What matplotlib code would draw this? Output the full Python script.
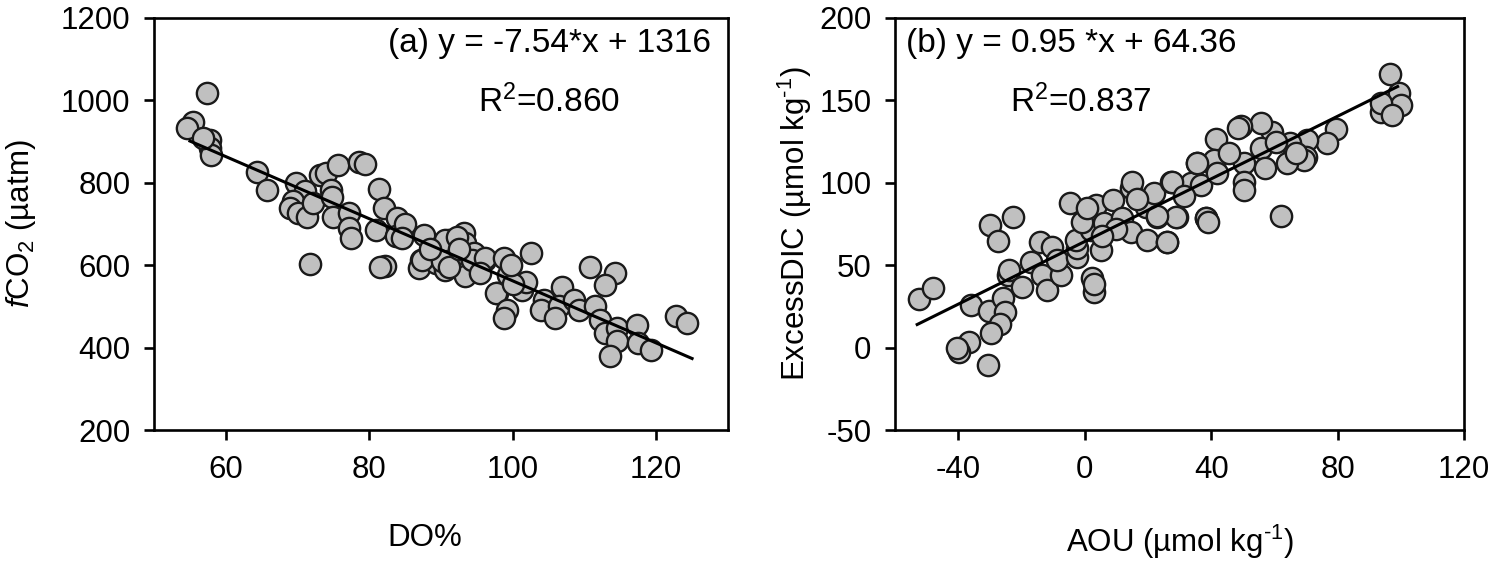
import numpy as np
import matplotlib.pyplot as plt

plt.rcParams['font.family'] = ['Liberation Sans', 'DejaVu Sans']
plt.rcParams['mathtext.fontset'] = 'custom'
plt.rcParams['mathtext.rm'] = 'Liberation Sans'
plt.rcParams['mathtext.it'] = 'Liberation Sans:italic'
plt.rcParams['axes.unicode_minus'] = False

# Panel (a): DO% vs fCO2
do_pct = [57.4, 55.4, 54.6, 57.8, 57.8, 57.9, 56.8, 64.3, 65.8, 69.8, 71.0, 69.3,
          68.9, 70.0, 71.3, 72.1, 71.8, 73.1, 73.9, 75.6, 78.5, 79.4, 74.7, 74.8,
          74.9, 77.2, 77.2, 77.5, 81.3, 82.1, 83.9, 81.0, 83.7, 82.2, 81.5, 87.6,
          87.2, 86.9, 89.3, 90.1, 91.1, 93.2, 93.4, 91.5, 90.6, 93.4, 94.6, 96.2,
          97.8, 87.4, 90.6, 92.2, 90.1, 91.1, 94.3, 96.2, 98.8, 99.4, 97.6, 99.2,
          98.8, 101.3, 101.8, 102.5, 104.3, 104.0, 106.8, 106.4, 105.9, 108.5, 109.2,
          110.8, 114.3, 112.9, 111.5, 112.2, 112.9, 114.5, 114.5, 113.6, 117.3,
          117.5, 119.3, 122.8, 124.3, 85.0, 88.5, 95.5, 100.0, 84.5, 92.5, 99.8]
fco2 = [1019, 948, 932, 904, 884, 867, 909, 826, 782, 799, 779, 755,
        739, 726, 718, 751, 603, 819, 824, 843, 851, 845, 782, 766,
        717, 727, 690, 666, 784, 739, 714, 686, 670, 598, 595, 673,
        613, 593, 605, 649, 661, 678, 654, 621, 588, 573, 630, 613,
        532, 613, 661, 669, 609, 596, 613, 617, 617, 576, 532, 491,
        472, 540, 560, 629, 516, 491, 548, 500, 472, 516, 491,
        596, 580, 552, 500, 467, 435, 447, 415, 380, 455,
        410, 394, 477, 460, 700, 640, 580, 555, 665, 640, 600]

fit_a_x = [55, 125]
fit_a_slope, fit_a_int = -7.54, 1316

# Panel (b): AOU vs ExcessDIC
aou = [-52.4, -47.9, -30.0, -22.7, -27.3, -36.1, -30.3, -26.0, -25.3, -26.8,
       -29.7, -36.6, -39.7, -30.5, -24.2, -24.0, -19.7, -17.1, -14.1, -10.2,
       -13.4, -11.8, -7.6, -8.7, -4.6, -2.3, -2.3, -2.8, 2.4, 3.0,
       3.0, 1.9, -0.7, 3.5, 0.8, 5.1, 6.1, 8.8, 11.9, 14.5,
       14.9, 19.3, 14.5, 19.8, 23.0, 21.9, 27.4, 26.1, 29.3, 33.5,
       35.6, 38.3, 40.9, 96.5, 99.4, 100.0, 93.6, 93.6, 97.3, 79.4,
       76.5, 70.4, 69.9, 69.5, 64.1, 65.1, 62.2, 59.3, 55.7, 55.7,
       57.2, 49.5, 48.5, 50.4, 50.4, 50.4, 41.4, 40.9, 35.6, 36.7,
       42.0, 38.3, 39.0, 27.7, 28.8, 26.1, 23.0, 10.0, 16.5, 31.5,
       45.5, 60.5, 67.0, 5.5, -40.5]
excess_dic = [29.3, 36.4, 74.4, 79.4, 64.9, 25.8, 22.4, 30.0, 21.8, 14.3,
              8.7, 3.6, -2.5, -10.6, 44.0, 47.0, 37.0, 52.1, 64.3, 61.2,
              44.0, 35.0, 44.0, 53.2, 88.0, 55.2, 60.2, 65.3, 42.0, 34.0,
              38.7, 71.4, 76.4, 86.5, 84.5, 59.2, 75.4, 89.6, 78.5, 96.7,
              100.7, 85.5, 70.3, 65.3, 79.4, 93.6, 100.7, 64.3, 79.4, 99.7,
              111.8, 78.5, 110.8, 166.0, 154.3, 147.0, 143.1, 148.2, 141.1, 132.4,
              124.0, 126.0, 115.8, 114.0, 111.8, 124.0, 79.8, 131.0, 136.1, 121.0,
              108.8, 134.5, 133.5, 111.8, 100.7, 95.5, 126.4, 113.8, 111.8, 98.7,
              105.8, 78.5, 76.5, 100.7, 79.4, 64.3, 80.0, 72.0, 90.0, 92.0,
              118.0, 125.0, 118.0, 68.0, 0.0]

fit_b_x = [-53, 99]
fit_b_slope, fit_b_int = 0.95, 64.36

fig = plt.figure(figsize=(15, 5.67), dpi=100)
ax1 = fig.add_axes([0.1027, 0.2416, 0.3826, 0.7267])
ax2 = fig.add_axes([0.5967, 0.2416, 0.3793, 0.7267])

fs = 22.5
fs_note = 24
hy = '\u2010'  # hyphen used in the superscripts
for ax in (ax1, ax2):
    for sp in ax.spines.values():
        sp.set_linewidth(1.9)
    ax.tick_params(direction='out', length=7, width=1.9, labelsize=fs,
                   top=False, right=False)
    ax.tick_params(axis='x', pad=11)
    ax.tick_params(axis='y', pad=10)

# (a)
ax1.scatter(do_pct, fco2, s=235, facecolor='#c0c0c0', edgecolor='#1a1a1a',
            linewidth=1.7, zorder=2)
xa = np.array(fit_a_x)
ax1.plot(xa, fit_a_slope * xa + fit_a_int, color='black', linewidth=2.2, zorder=3)
ax1.set_xlim(50, 130)
ax1.set_ylim(200, 1200)
ax1.set_xticks([60, 80, 100, 120])
ax1.set_yticks(np.arange(200, 1201, 200))
ax1.set_xlabel('DO%', fontsize=fs)
ax1.set_ylabel(r'$\it{f}$CO$_2$ (µatm)', fontsize=fs)
ax1.xaxis.set_label_coords(0.472, -0.225)
ax1.yaxis.set_label_coords(-0.202, 0.5)
ax1.text(0.408, 0.937, '(a) y = -7.54*x + 1316', transform=ax1.transAxes,
         fontsize=fs_note, ha='left', va='center')
ax1.text(0.564, 0.796, r'R$^2$=0.860', transform=ax1.transAxes,
         fontsize=fs_note, ha='left', va='center')

# (b)
ax2.scatter(aou, excess_dic, s=235, facecolor='#c0c0c0', edgecolor='#1a1a1a',
            linewidth=1.7, zorder=2)
xb = np.array(fit_b_x)
ax2.plot(xb, fit_b_slope * xb + fit_b_int, color='black', linewidth=2.2, zorder=3)
ax2.set_xlim(-60, 120)
ax2.set_ylim(-50, 200)
ax2.set_xticks([-40, 0, 40, 80, 120])
ax2.set_yticks(np.arange(-50, 201, 50))
ax2.set_xlabel('AOU (µmol kg$^{' + hy + '1}$)', fontsize=fs)
ax2.set_ylabel('ExcessDIC (µmol kg$^{' + hy + '1}$)', fontsize=fs)
ax2.xaxis.set_label_coords(0.5, -0.225)
ax2.yaxis.set_label_coords(-0.143, 0.5)
ax2.text(0.019, 0.937, '(b) y = 0.95 *x + 64.36', transform=ax2.transAxes,
         fontsize=fs_note, ha='left', va='center')
ax2.text(0.202, 0.796, r'R$^2$=0.837', transform=ax2.transAxes,
         fontsize=fs_note, ha='left', va='center')

plt.savefig('out.png', dpi=100)
